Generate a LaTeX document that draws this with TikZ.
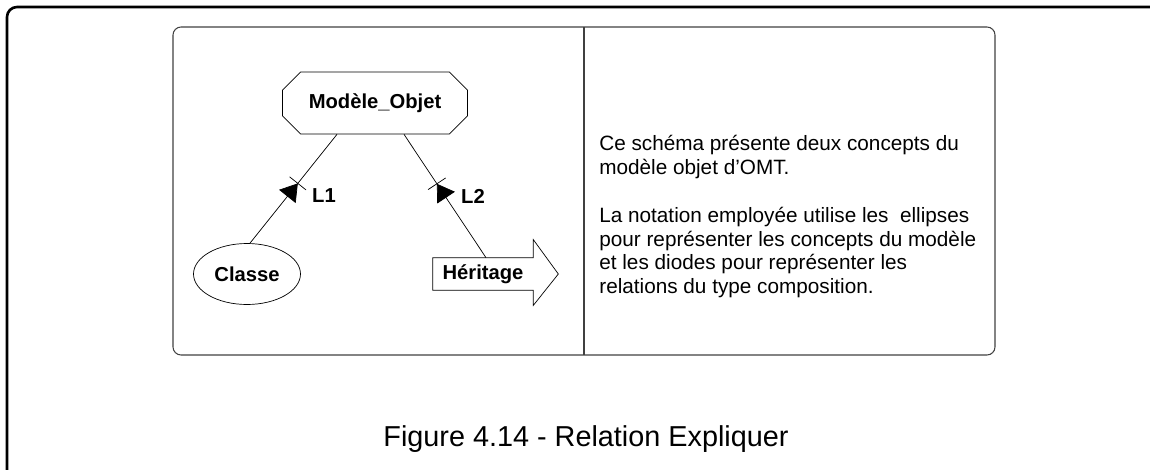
\documentclass[tikz,border=0pt]{standalone}
\usepackage{fontspec}
\setmainfont{Liberation Sans}
\usetikzlibrary{shapes.geometric,shapes.misc,arrows.meta,decorations.markings}
\tikzset{
  lbl/.style={font=\fontsize{11.5}{13}\selectfont\bfseries},
  objet/.style={lbl, chamfered rectangle, draw, chamfered rectangle xsep=0.16cm,
    chamfered rectangle ysep=0.2cm, minimum width=3.7cm, minimum height=1.24cm},
  concept/.style={lbl, ellipse, draw, inner sep=0pt, minimum width=2.14cm, minimum height=1.22cm},
  heritage/.style={lbl, rectangle, inner sep=0pt, minimum width=2cm, minimum height=0.64cm},
  relation/.style={postaction={decorate}, decoration={markings,
    mark=at position #1 with {\arrow{Triangle[length=9.5pt,width=12pt]};
      \draw (0pt,-6pt) -- (0pt,6pt);}}}
}
\begin{document}
\begin{tikzpicture}[x=0.02cm,y=-0.02cm]
\useasboundingbox (0,0) rectangle (1150,470);
% cadres
\draw[line width=1.5pt, rounded corners=0.2cm] (1160,7) -- (7,7) -- (7,480);
\draw[black!75, line width=0.6pt, rounded corners=0.16cm] (173,27) rectangle (995,355);
\draw[black!75, line width=0.6pt] (584,27) -- (584,355);
% schema
\node[objet] (mod) at (375,103) {Modèle\_Objet};
\node[concept] (cla) at (247,274) {Classe};
\node[heritage] (her) at (483,274) {Héritage};
\draw (her.north east) -- ++(0,-18) -- ([xshift=0.5cm]her.east)
  -- ([yshift=-0.3cm]her.south east) -- (her.south east) -- (her.south west)
  -- (her.north west) -- cycle;
\draw[relation=0.55] ([xshift=0.06cm]cla.north) -- ([xshift=-0.76cm]mod.south);
\draw[relation=0.6] ([xshift=0.06cm]her.north) -- ([xshift=0.58cm]mod.south);
\node[lbl] (l1) at (324,196) {L1};
\node[lbl] (l2) at (473,196) {L2};
% explication
\node[anchor=north west, align=left, inner sep=0pt, font=\fontsize{11.8}{13.4}\selectfont]
  (expl) at (599,135) {Ce schéma présente deux concepts du\\
  modèle objet d'OMT.\\[0.5cm]
  La notation employée utilise les \ ellipses\\
  pour représenter les concepts du modèle\\
  et les diodes pour représenter les\\
  relations du type composition.};
\node[font=\fontsize{16.4}{19}\selectfont] (cap) at (586,439) {Figure 4.14 - Relation Expliquer};
\end{tikzpicture}
\end{document}
